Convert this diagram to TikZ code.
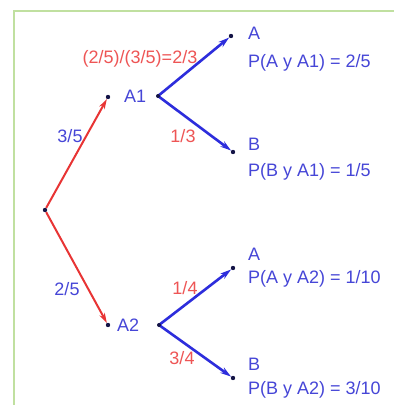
\documentclass[tikz,border=0pt]{standalone}
\usepackage{fontspec}
\setmainfont{Liberation Sans}
\usetikzlibrary{arrows.meta}
\definecolor{arrblue}{RGB}{45,45,220}
\definecolor{arrred}{RGB}{232,52,52}
\definecolor{txtblue}{RGB}{70,70,215}
\definecolor{txtred}{RGB}{238,85,85}
\definecolor{frame}{RGB}{192,224,160}
\definecolor{dotc}{RGB}{20,20,70}
\begin{document}
\begin{tikzpicture}[x=1pt,y=-1pt,
  pt/.style={circle,fill=dotc,inner sep=0pt,minimum size=4.4pt},
  bl/.style={text=txtblue,font=\fontsize{18}{21}\selectfont,inner sep=0pt},
  rl/.style={text=txtred,font=\fontsize{18}{21}\selectfont,inner sep=0pt},
  redarr/.style={draw=arrred,line width=2pt,-{Stealth[length=10pt,width=6pt]}},
  bluearr/.style={draw=arrblue,line width=2.6pt,-{Stealth[length=11pt,width=6.5pt]}}]
\useasboundingbox (0,0) rectangle (394,405);
\fill[white] (0,0) rectangle (394,405);
\draw[frame,line width=2pt] (14,420) -- (14,11) -- (410,11);
% nodes
\node[pt] (r) at (45,210) {};
\node[pt] (a1) at (108,97) {};
\node[pt] (a2) at (108,325) {};
\coordinate (f1) at (158,96);
\coordinate (f2) at (159,325);
\node[pt] (aa1) at (231,36) {};
\node[pt] (ba1) at (233,152) {};
\node[pt] (aa2) at (233,268) {};
\node[pt] (ba2) at (233,378) {};
% connectors
\draw[redarr] (r) -- (a1);
\draw[redarr] (r) -- (a2);
\draw[bluearr] (f1) -- (aa1);
\draw[bluearr] (f1) -- (ba1);
\draw[bluearr] (f2) -- (aa2);
\draw[bluearr] (f2) -- (ba2);
\fill[dotc] (f1) circle (2pt);
\fill[dotc] (f2) circle (2pt);
% labels
\node[bl,anchor=west] (l1) at (124,96) {A1};
\node[bl,anchor=west] (l2) at (117,325) {A2};
\node[bl,anchor=west] (t1) at (248,33) {A};
\node[bl,anchor=west] (p1) at (248,63) {P(A y A1) = 2/5};
\node[bl,anchor=west] (t2) at (248,144) {B};
\node[bl,anchor=west] (p2) at (248,172) {P(B y A1) = 1/5};
\node[bl,anchor=west] (t3) at (248,254) {A};
\node[bl,anchor=west] (p3) at (248,279) {P(A y A2) = 1/10};
\node[bl,anchor=west] (t4) at (248,364) {B};
\node[bl,anchor=west] (p4) at (248,390) {P(B y A2) = 3/10};
\node[bl] (e1) at (70,136) {3/5};
\node[bl] (e2) at (67,289) {2/5};
\node[rl] (e3) at (140,59) {(2/5)/(3/5)=2/3};
\node[rl] (e4) at (183,136) {1/3};
\node[rl] (e5) at (185,288) {1/4};
\node[rl] (e6) at (182,358) {3/4};
\end{tikzpicture}
\end{document}
